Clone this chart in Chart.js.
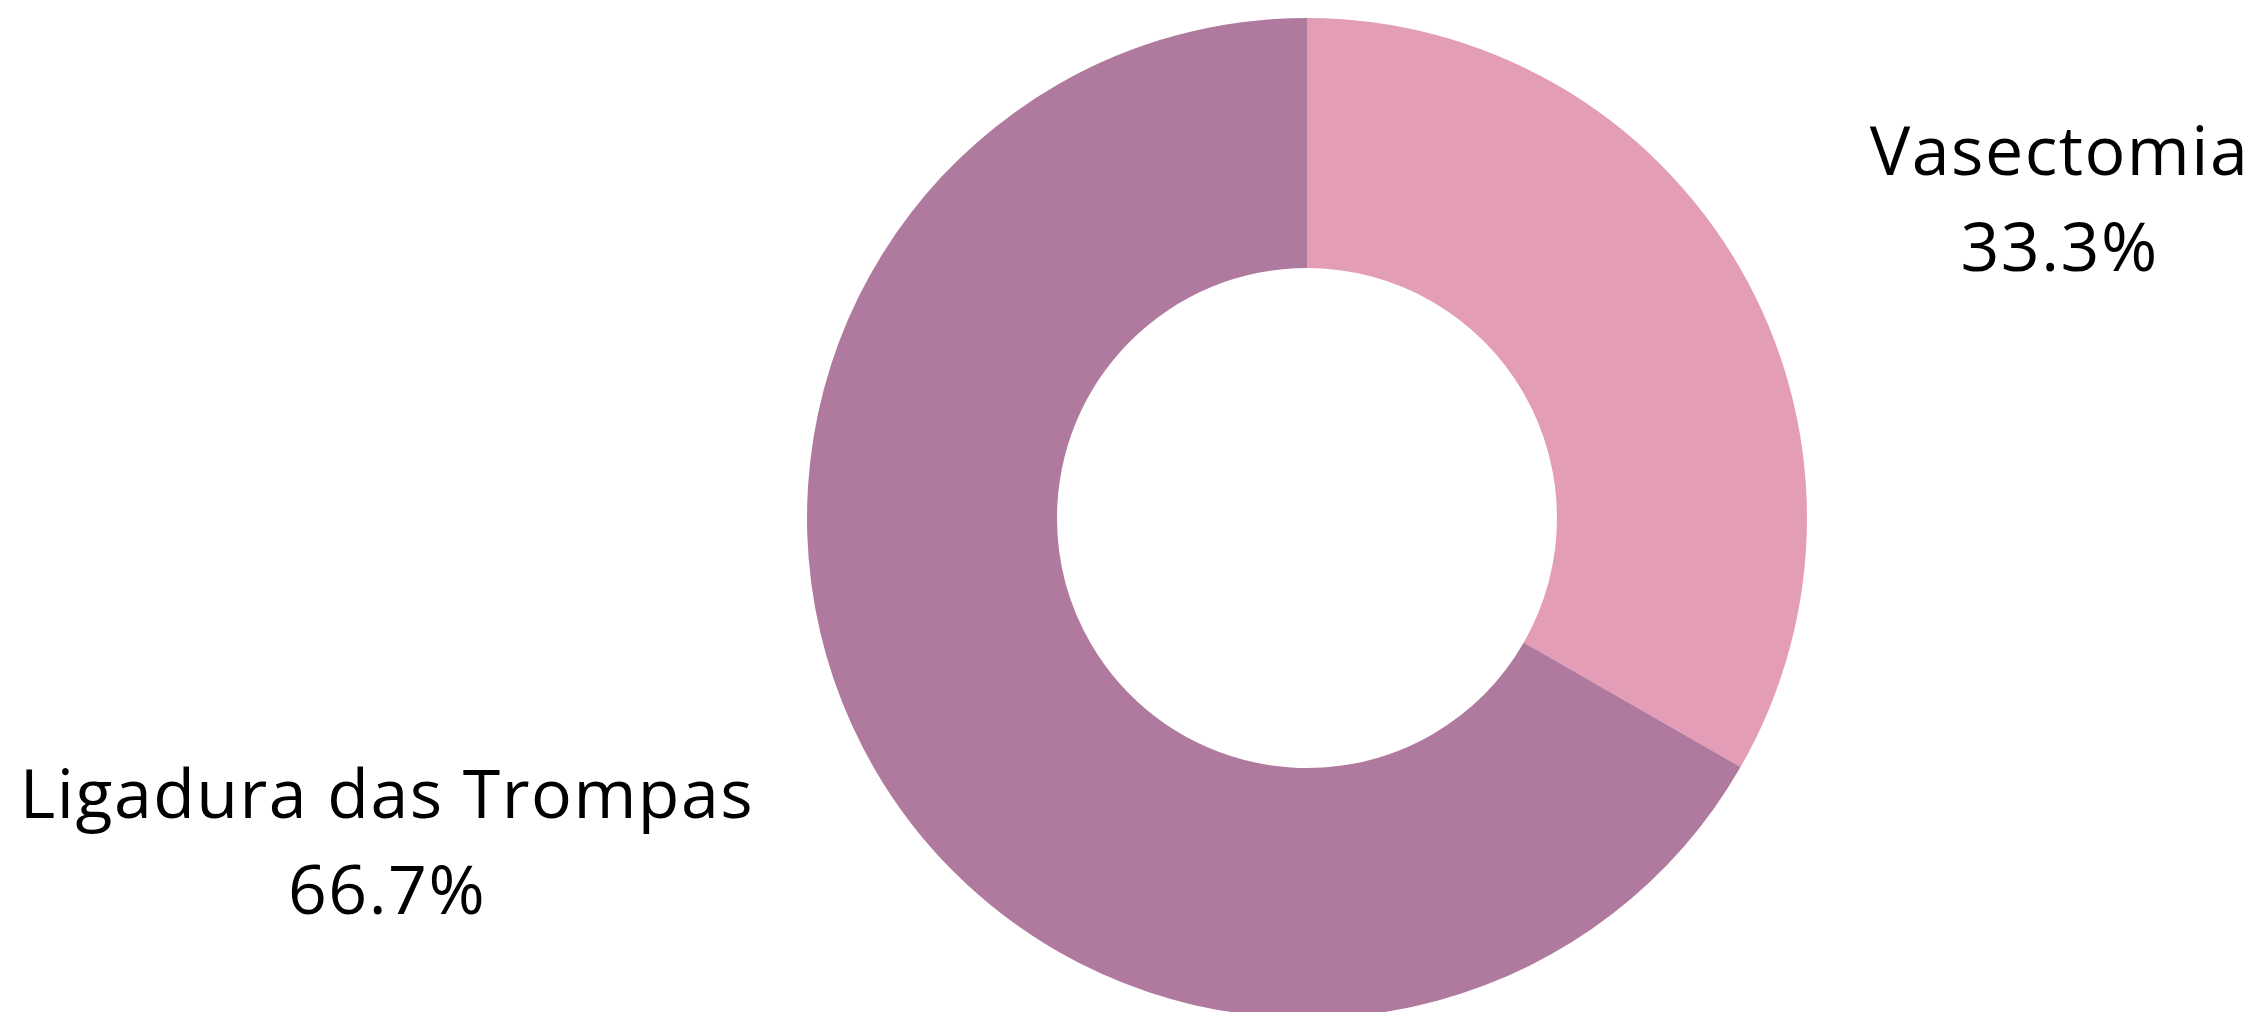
<!DOCTYPE html>
<html>
<head>
<meta charset="utf-8">
<script src="https://cdn.jsdelivr.net/npm/chart.js@4"></script>
<style>
  html, body { margin: 0; padding: 0; overflow: hidden; background: #ffffff; }
  #wrap { width: 2266px; height: 1036px; position: relative; }
</style>
</head>
<body>
<div id="wrap"><canvas id="donut"></canvas></div>
<script>
// categorias e valores (%)
const categories = ['Vasectomia', 'Ligadura das Trompas'];
const shares = [33.3, 66.7];
const sliceColors = ['#E49DB7', '#B07A9F'];

// posicao dos rotulos em relacao ao centro, em multiplos do raio
const labelOffsets = [
  { dx: 1.505, dy: -0.64 },
  { dx: -1.84, dy: 0.646 }
];

const outsideLabels = {
  id: 'outsideLabels',
  afterDatasetsDraw(chart) {
    const ctx = chart.ctx;
    const arcs = chart.getDatasetMeta(0).data;
    ctx.save();
    ctx.fillStyle = '#000000';
    ctx.font = '400 68px "Open Sans"';
    ctx.letterSpacing = '1.5px';
    ctx.textAlign = 'center';
    ctx.textBaseline = 'alphabetic';
    arcs.forEach((arc, i) => {
      const r = arc.outerRadius;
      const x = arc.x + labelOffsets[i].dx * r;
      const y = arc.y + labelOffsets[i].dy * r;
      ctx.fillText(categories[i], x, y - 23);
      ctx.fillText(shares[i].toFixed(1) + '%', x, y + 73);
    });
    ctx.restore();
  }
};

const ctx = document.getElementById('donut').getContext('2d');
new Chart(ctx, {
  type: 'doughnut',
  data: {
    labels: categories,
    datasets: [{
      data: shares,
      backgroundColor: sliceColors,
      borderWidth: 0
    }]
  },
  options: {
    responsive: true,
    maintainAspectRatio: false,
    animation: false,
    cutout: '50%',
    layout: { padding: { top: 18, bottom: 18, left: 348, right: 0 } },
    plugins: {
      legend: { display: false },
      tooltip: { enabled: false }
    }
  },
  plugins: [outsideLabels]
});
</script>
</body>
</html>
